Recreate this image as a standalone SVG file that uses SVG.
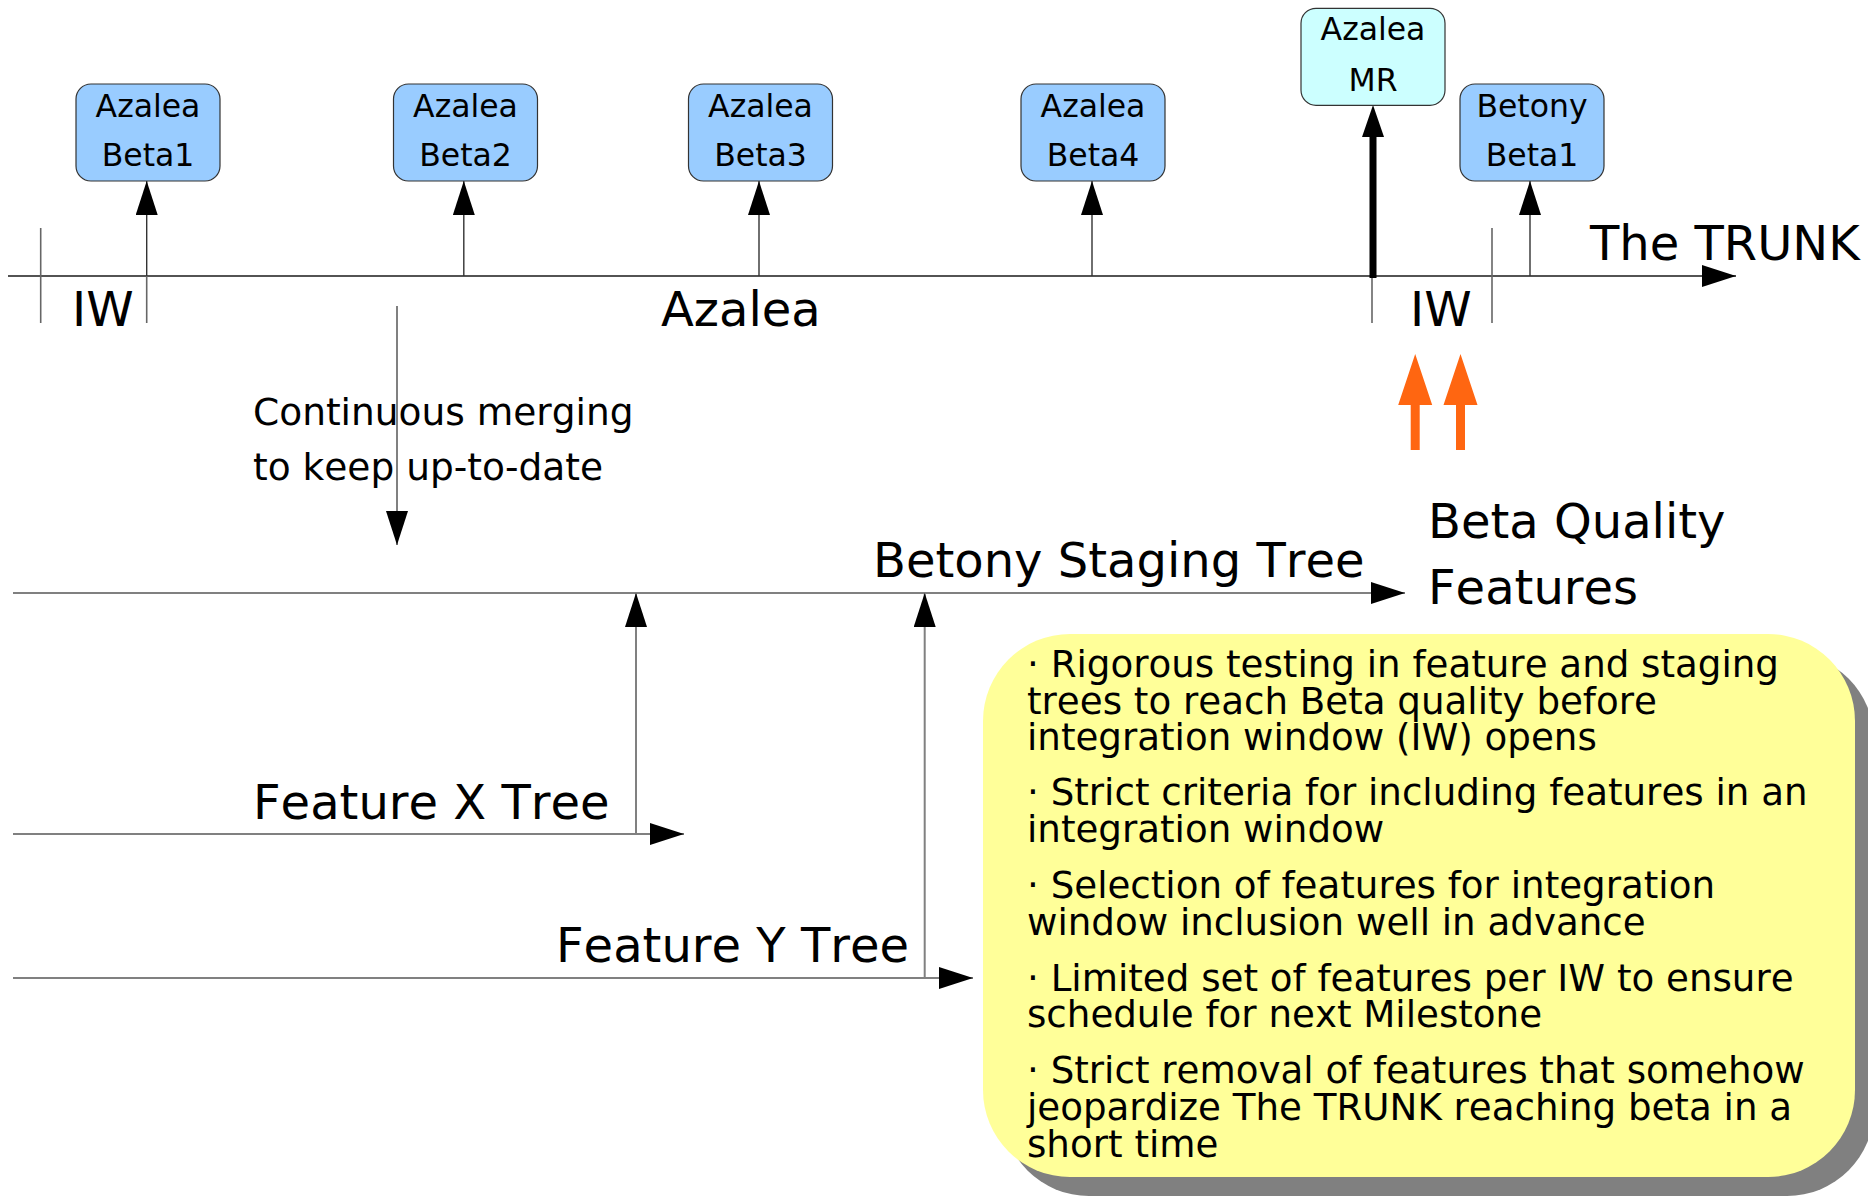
<svg xmlns="http://www.w3.org/2000/svg" width="1868" height="1196" viewBox="0 0 1868 1196">
<style>
text{font-family:"DejaVu Sans","Liberation Sans",sans-serif;fill:#000;font-kerning:none}
.big{font-size:48px}
.node rect{fill:#99ccff;stroke:#333;stroke-width:1.2}
.node text{font-size:31.5px;text-anchor:middle}
.trunk{stroke:#1a1a1a;stroke-width:1.6;fill:none}
.tick{stroke:#666;stroke-width:1.6;fill:none}
.gline{stroke:#808080;stroke-width:2;fill:none}
.vline{stroke:#333;stroke-width:1.4;fill:none}
.head{fill:#000}
.orange{fill:#ff6611}
.note{font-size:37.2px}
</style>
<defs>
<marker id="ah" viewBox="0 0 34 22" refX="34" refY="11" markerWidth="34" markerHeight="22" markerUnits="userSpaceOnUse" orient="auto">
<path d="M0,0 L34,11 L0,22 Z" fill="#000"/>
</marker>
</defs>

<g id="connectors">
<line class="trunk" x1="8" y1="276" x2="1736" y2="276" marker-end="url(#ah)"/>
<line class="tick" x1="40.7" y1="228" x2="40.7" y2="323"/>
<line class="tick" x1="146.7" y1="276" x2="146.7" y2="323"/>
<line class="tick" x1="1372" y1="276" x2="1372" y2="323"/>
<line class="tick" x1="1492" y1="228" x2="1492" y2="323"/>
<line class="vline" x1="146.7" y1="276" x2="146.7" y2="181" marker-end="url(#ah)"/>
<line class="vline" x1="463.8" y1="276" x2="463.8" y2="181" marker-end="url(#ah)"/>
<line class="vline" x1="759" y1="276" x2="759" y2="181" marker-end="url(#ah)"/>
<line class="vline" x1="1092" y1="276" x2="1092" y2="181" marker-end="url(#ah)"/>
<line class="vline" x1="1530" y1="276" x2="1530" y2="181" marker-end="url(#ah)"/>
<line x1="1373" y1="278" x2="1373" y2="130" stroke="#000" stroke-width="7"/>
<path class="head" d="M1362,137 L1384,137 L1373,105 Z"/>
<line class="gline" x1="397" y1="306" x2="397" y2="545" marker-end="url(#ah)"/>
<line class="gline" x1="13" y1="593" x2="1405" y2="593" marker-end="url(#ah)"/>
<line class="gline" x1="13" y1="834" x2="684" y2="834" marker-end="url(#ah)"/>
<line class="gline" x1="13" y1="978" x2="973" y2="978" marker-end="url(#ah)"/>
<line class="gline" x1="636" y1="834" x2="636" y2="593" marker-end="url(#ah)"/>
<line class="gline" x1="924.7" y1="978" x2="924.7" y2="593" marker-end="url(#ah)"/>
<path class="orange" d="M1410.7,450 L1410.7,405 L1398.2,405 L1415.2,354 L1432.2,405 L1419.7,405 L1419.7,450 Z"/>
<path class="orange" d="M1456,450 L1456,405 L1443.5,405 L1460.5,354 L1477.5,405 L1465,405 L1465,450 Z"/>
</g>

<g id="node-azalea-beta1" class="node">
<rect x="76" y="84" width="144" height="97" rx="15"/>
<text x="148" y="116.7">Azalea</text><text x="148" y="166">Beta1</text>
</g>
<g id="node-azalea-beta2" class="node">
<rect x="393.5" y="84" width="144" height="97" rx="15"/>
<text x="465.5" y="116.7">Azalea</text><text x="465.5" y="166">Beta2</text>
</g>
<g id="node-azalea-beta3" class="node">
<rect x="688.5" y="84" width="144" height="97" rx="15"/>
<text x="760.5" y="116.7">Azalea</text><text x="760.5" y="166">Beta3</text>
</g>
<g id="node-azalea-beta4" class="node">
<rect x="1021" y="84" width="144" height="97" rx="15"/>
<text x="1093" y="116.7">Azalea</text><text x="1093" y="166">Beta4</text>
</g>
<g id="node-azalea-mr" class="node">
<rect x="1301" y="8.3" width="144" height="97" rx="15" style="fill:#ccffff"/>
<text x="1373" y="40">Azalea</text><text x="1373" y="90.7">MR</text>
</g>
<g id="node-betony-beta1" class="node">
<rect x="1460" y="84" width="144" height="97" rx="15"/>
<text x="1532" y="116.7">Betony</text><text x="1532" y="166">Beta1</text>
</g>

<g id="labels">
<text class="big" x="72" y="326">IW</text>
<text class="big" x="661" y="326">Azalea</text>
<text class="big" x="1410" y="326">IW</text>
<text class="big" x="1590" y="260">The TRUNK</text>
<text style="font-size:37.5px" x="253" y="425">Continuous merging</text>
<text style="font-size:37.5px" x="253" y="480">to keep up-to-date</text>
<text class="big" x="873" y="577">Betony Staging Tree</text>
<text class="big" x="1428" y="538">Beta Quality</text>
<text class="big" x="1428" y="604">Features</text>
<text class="big" x="253" y="819">Feature X Tree</text>
<text class="big" x="556" y="962">Feature Y Tree</text>
</g>

<g id="note">
<rect x="1002" y="653" width="872" height="543" rx="87" fill="#808080"/>
<rect x="983" y="634" width="872" height="543" rx="87" fill="#ffff99"/>
<text class="note" x="1027" y="677.3">· Rigorous testing in feature and staging</text>
<text class="note" x="1027" y="713.7">trees to reach Beta quality before</text>
<text class="note" x="1027" y="750">integration window (IW) opens</text>
<text class="note" x="1027" y="805">· Strict criteria for including features in an</text>
<text class="note" x="1027" y="841.7">integration window</text>
<text class="note" x="1027" y="898.3">· Selection of features for integration</text>
<text class="note" x="1027" y="935">window inclusion well in advance</text>
<text class="note" x="1027" y="990.7">· Limited set of features per IW to ensure</text>
<text class="note" x="1027" y="1027.3">schedule for next Milestone</text>
<text class="note" x="1027" y="1083.3">· Strict removal of features that somehow</text>
<text class="note" x="1027" y="1120">jeopardize The TRUNK reaching beta in a</text>
<text class="note" x="1027" y="1156.7">short time</text>
</g>
</svg>
